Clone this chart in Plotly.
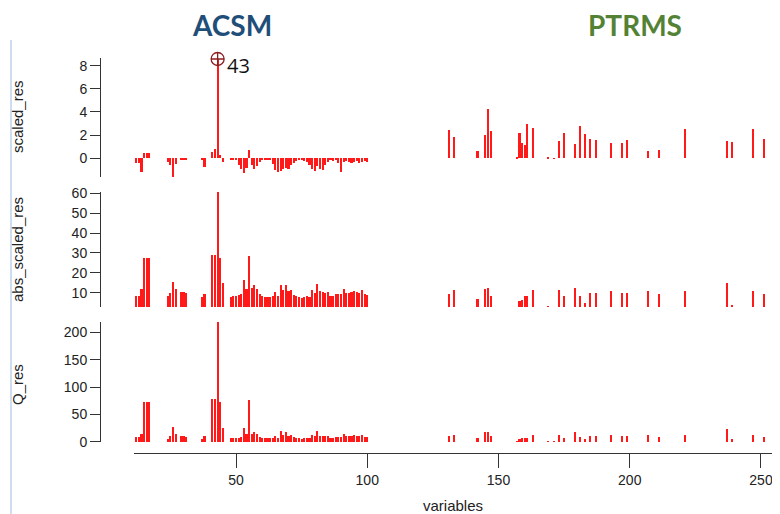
import plotly.graph_objects as go

# ---------------- data ----------------
acsm_x = [12, 13, 14, 15, 16, 17, 24, 25, 26, 27, 29, 30, 31, 37, 38, 41, 42, 43, 44, 45] + list(range(48, 101))

acsm_scaled = [-0.4, -0.4, -1.2, 0.45, 0.45, 0.45, -0.3, -0.6, -1.6, -0.5, -0.15, -0.15, -0.15, -0.1, -0.75,
               0.5, 0.8, 8.58, 0.3, -0.3,
               -0.1, -0.1, -0.15, -0.6, -0.9, -1.3, -0.8, 0.7, -0.6, -0.9, -0.7, -0.3, -0.1, -0.1, -0.1, -0.1,
               -0.5, -1.0, -1.2, -1.1, -0.9, -0.8, -0.9, -0.6, -0.4, -0.2, -0.1, -0.1, -0.2, -0.3, -0.6, -0.9,
               -1.1, -0.7, -0.9, -1.0, -0.6, -0.3, -0.1, -0.2, -0.1, -0.4, -1.2, -0.3, -0.2, -0.3, -0.4, -0.3,
               -0.2, -0.4, -0.3, -0.2, -0.3]

acsm_abs = [8.8, 8.8, 12, 27.6, 27.6, 27.6, 8.8, 10, 15.5, 12, 10.4, 10.4, 10, 8.2, 9.7,
            29, 29, 61, 27.5, 15,
            8.3, 8.5, 8.8, 9.0, 9.7, 16.4, 12.0, 28.5, 12.5, 13.9, 12.0, 9.7, 8.8, 8.3, 7.9, 7.9,
            8.8, 10.6, 8.8, 14.2, 11.4, 13.9, 10.9, 11.4, 9.2, 8.8, 8.3, 7.5, 7.9, 8.8, 7.9, 11.4,
            10.2, 14.7, 10.9, 10.6, 10.2, 10.6, 8.8, 8.8, 9.7, 9.7, 9.7, 12.0, 10.2, 10.2, 10.4, 11.2,
            10.6, 10.2, 11.4, 9.7, 9.2]

acsm_q = [8, 8, 15, 72, 72, 72, 5, 10, 27, 15, 10, 10, 9, 5, 10,
          79, 79, 219, 72, 25,
          6.5, 6.8, 7.3, 7.6, 8.8, 25, 13.5, 76, 14.7, 18, 13.5, 8.8, 7.3, 6.5, 5.9, 5.9,
          7.3, 10.6, 7.3, 19, 12.2, 18, 11.2, 12.2, 8, 7.3, 6.5, 5.3, 5.9, 7.3, 5.9, 12.2,
          9.8, 20, 11.2, 10.6, 9.8, 10.6, 7.3, 7.3, 8.8, 8.8, 8.8, 13.5, 9.8, 9.8, 10.2, 11.8,
          10.6, 9.8, 12.2, 8.8, 8]

ptrms_x = [131, 133, 142, 145, 146, 147, 157, 158, 159, 160, 161, 163, 169, 171, 173, 175, 179, 181,
           183, 185, 187, 193, 197, 199, 207, 211, 221, 237, 239, 247, 251]

ptrms_scaled = [2.45, 1.87, 0.63, 2.0, 4.26, 2.36, 0.1, 2.15, 1.3, 1.15, 2.95, 2.6, 0.1, -0.05, 1.53, 2.22,
                1.24, 2.8, 2.07, 1.64, 1.58, 1.3, 1.3, 1.56, 0.63, 0.72, 2.54, 1.53, 1.38, 2.54, 1.7]

ptrms_abs = [9.7, 11.4, 7.2, 12.2, 12.7, 8.8, 3.2, 6.2, 6.5, 8.8, 8.8, 11.8, 3.5, 2.6, 11.4, 8.8,
             12.7, 8.8, 5.0, 10.0, 10.0, 10.9, 10.0, 10.0, 10.9, 9.4, 10.9, 15.0, 4.3, 10.9, 9.7]

ptrms_q = [11, 12, 6, 18, 17, 11, 1.2, 5, 6, 7, 7, 13, 1.2, 1, 13, 7,
           18, 9, 5, 11, 11, 12, 11, 11, 12, 9, 12, 24, 5, 12, 9]

x_ticks = [50, 100, 150, 200, 250]
panel_names = ["scaled_res", "abs_scaled_res", "Q_res"]

# ---------------- figure ----------------
RED = "rgb(255,25,25)"
FONT = "Liberation Sans, Arial, sans-serif"
fig = go.Figure()

series = [(acsm_scaled, ptrms_scaled, "y"), (acsm_abs, ptrms_abs, "y2"), (acsm_q, ptrms_q, "y3")]
for a_vals, p_vals, yax in series:
    fig.add_trace(go.Bar(x=acsm_x + ptrms_x, y=a_vals + p_vals, xaxis="x", yaxis=yax,
                         width=0.8, marker=dict(color=RED, line=dict(width=0)),
                         showlegend=False, hoverinfo="x+y"))

# tag marker on the m/z 43 peak
peak_i = acsm_x.index(43)
fig.add_trace(go.Scatter(x=[acsm_x[peak_i]], y=[acsm_scaled[peak_i]], xaxis="x", yaxis="y",
                         mode="markers", showlegend=False, cliponaxis=False,
                         marker=dict(symbol="circle-cross-open", size=13,
                                     color="rgb(140,30,30)", line=dict(width=1.3))))

# the page body adds an 8px offset, so the figure is 8px smaller than the window
FIG_W, FIG_H = 772, 506
H_T = 50
H_B = FIG_H - 445
plot_h = FIG_H - H_T - H_B


def py(p):
    return (453 - p) / plot_h


def px(p):
    return (p - 100) / 672


axis_common = dict(showline=True, linecolor="#333", linewidth=1, ticks="outside", ticklen=10,
                   tickcolor="#333", tickfont=dict(family=FONT, size=14, color="#222"),
                   showgrid=False, zeroline=False, anchor="free", position=0, automargin=False)

fig.update_layout(
    width=FIG_W, height=FIG_H,
    margin=dict(l=92, r=8, t=H_T, b=H_B, autoexpand=False),
    paper_bgcolor="white", plot_bgcolor="white",
    bargap=0,
    xaxis=dict(domain=[34 / 672, 1], range=[11.14, 254.2], tickvals=x_ticks,
               showline=True, linecolor="#333", ticks="outside", ticklen=14, tickcolor="#333",
               tickfont=dict(family=FONT, size=14, color="#222"), showgrid=False, zeroline=False,
               anchor="free", position=0, automargin=False, ticklabeloverflow="allow"),
    yaxis=dict(domain=[py(177), 1.0], range=[-1.62, 8.665], tickvals=[0, 2, 4, 6, 8], **axis_common),
    yaxis2=dict(domain=[py(307), py(191.5)], range=[2.8, 60.9], tickvals=[10, 20, 30, 40, 50, 60],
                **axis_common),
    yaxis3=dict(domain=[py(442), py(322)], range=[-0.55, 219.2], tickvals=[0, 50, 100, 150, 200],
                **axis_common),
)

ann = [
    dict(text="<b>ACSM</b>", x=px(232), y=py(25), xref="paper", yref="paper", showarrow=False,
         xanchor="center", yanchor="middle",
         font=dict(family="Lato, sans-serif", size=28, color="rgb(31,78,121)")),
    dict(text="<b>PTRMS</b>", x=px(635), y=py(25), xref="paper", yref="paper", showarrow=False,
         xanchor="center", yanchor="middle",
         font=dict(family="Lato, sans-serif", size=28, color="rgb(84,130,53)")),
    dict(text="43", x=43, y=acsm_scaled[peak_i], xref="x", yref="y", showarrow=False,
         xanchor="left", yanchor="middle", xshift=7, yshift=-7,
         font=dict(family="Open Sans, sans-serif", size=20, color="#111")),
    dict(text="variables", x=px(453), y=py(505), xref="paper", yref="paper", showarrow=False,
         xanchor="center", yanchor="middle",
         font=dict(family=FONT, size=15, color="#222")),
]
for name, cy in zip(panel_names, [117, 250, 385]):
    ann.append(dict(text=name, x=px(17), y=py(cy), xref="paper", yref="paper", showarrow=False,
                    xanchor="center", yanchor="middle",
                    textangle=-90, font=dict(family=FONT, size=15, color="#222")))
fig.update_layout(annotations=ann)

fig.add_shape(type="line", xref="paper", yref="paper", x0=px(11), x1=px(11), y0=py(40), y1=py(514),
              line=dict(color="rgb(190,210,235)", width=1.5))

fig.write_html("out.html")
